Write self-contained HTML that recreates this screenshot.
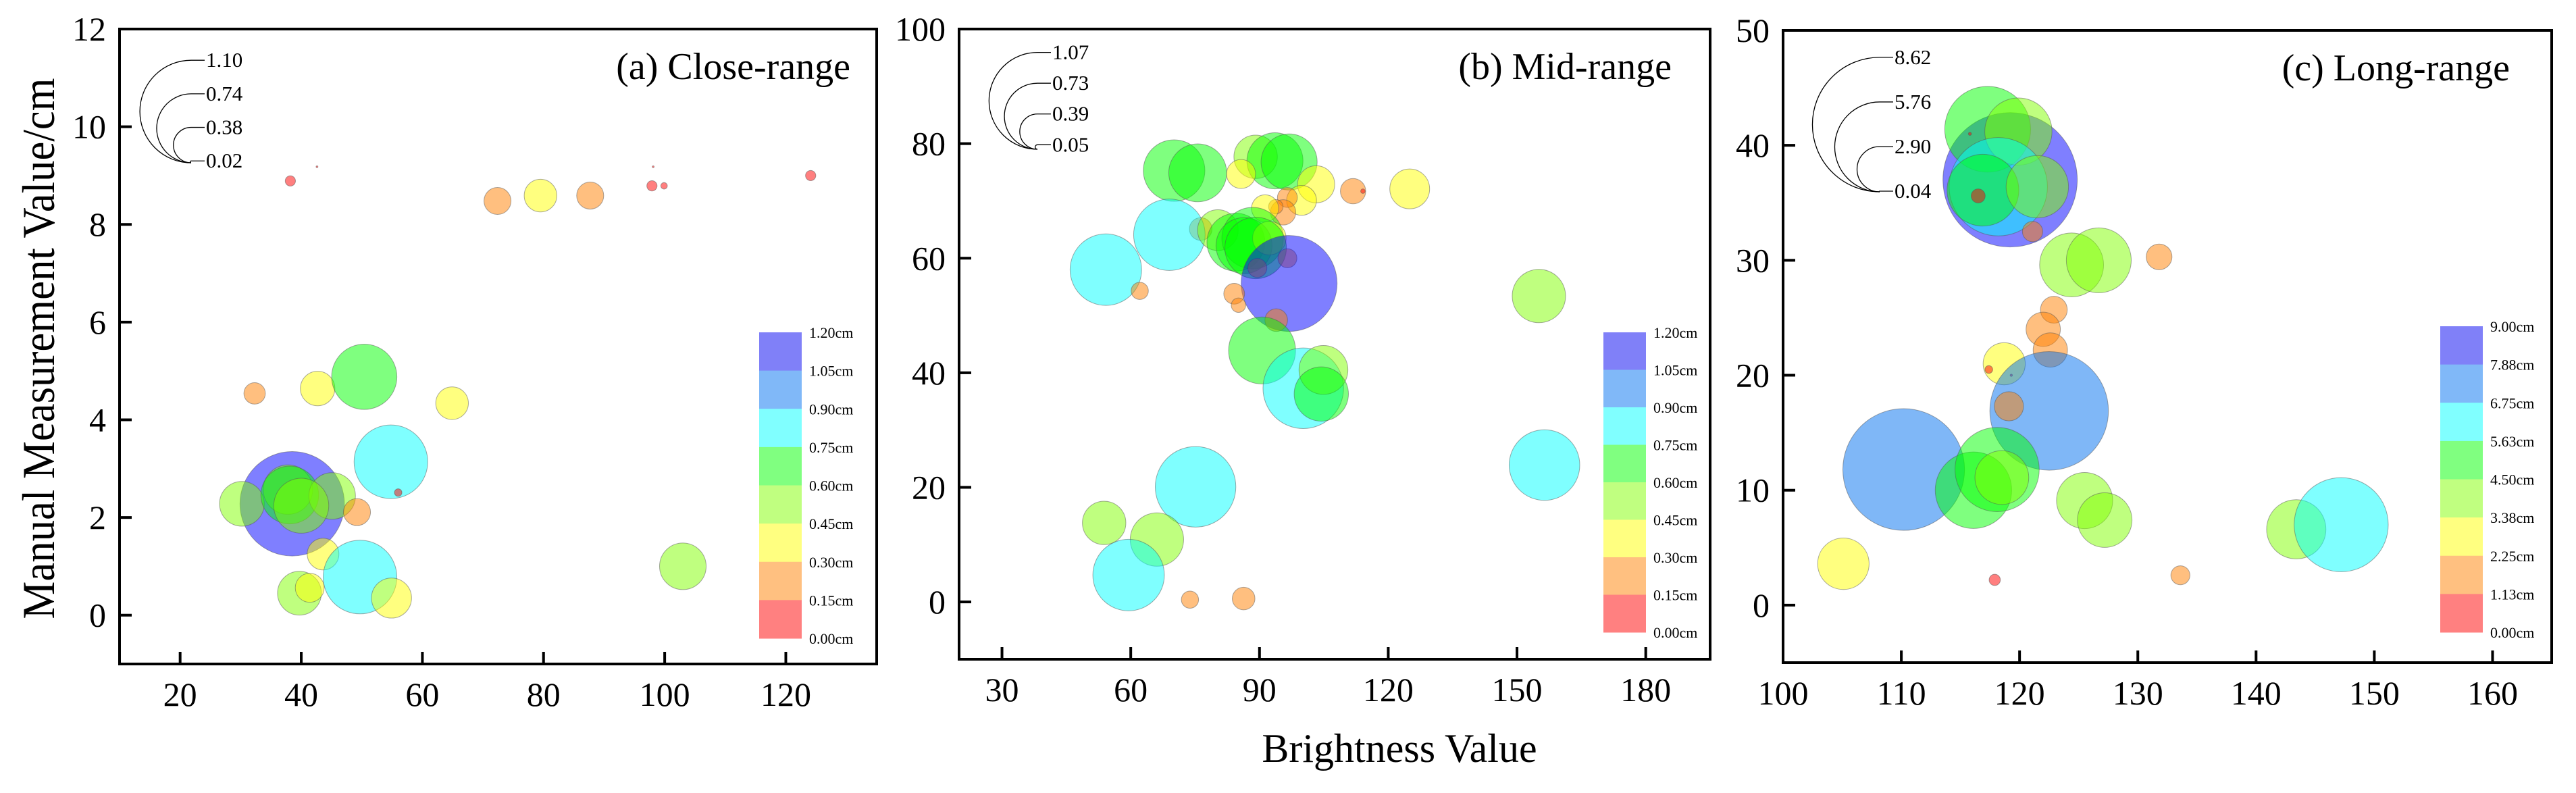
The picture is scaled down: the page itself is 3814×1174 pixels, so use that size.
<!DOCTYPE html>
<html><head><meta charset="utf-8"><style>
html,body{margin:0;padding:0;background:#fff}
svg{display:block}
text{font-family:"Liberation Serif",serif;fill:#000}
</style></head><body>
<svg id="chart" width="3814" height="1174" viewBox="0 0 3814 1174" xmlns="http://www.w3.org/2000/svg">
<text x="0" y="0" transform="translate(80,516) rotate(-90)" text-anchor="middle" font-size="68" textLength="801" lengthAdjust="spacingAndGlyphs">Manual Measurement Value/cm</text>
<text x="2072" y="1128" text-anchor="middle" font-size="60">Brightness Value</text>
</svg>
<script>
// ---- Panel (a) Close-range data ----
const aX=[38.2,42.6,98.1,72.4,79.5,87.7,97.9,99.9,124.1,32.3,42.7,50.4,64.9,54.8,56.0,38.5,30.2,37.8,38.1,45.1,40.0,49.2,43.6,49.7,39.7,41.4,54.9,103.0];
const aY=[8.89,9.18,9.18,8.48,8.59,8.59,8.79,8.79,9.0,4.54,4.64,4.88,4.34,3.14,2.51,2.28,2.28,2.57,2.46,2.44,2.24,2.11,1.25,0.78,0.45,0.56,0.35,1.0];
const aS=[0.11,0.02,0.02,0.29,0.35,0.29,0.11,0.07,0.11,0.23,0.37,0.70,0.35,0.79,0.08,1.12,0.48,0.53,0.62,0.50,0.59,0.29,0.34,0.79,0.47,0.31,0.43,0.50];
const aXTicks=[20,40,60,80,100,120];
const aYTicks=[0,2,4,6,8,10,12];
const aSizeLegend=[1.10,0.74,0.38,0.02];
const aBreaks=["1.20cm","1.05cm","0.90cm","0.75cm","0.60cm","0.45cm","0.30cm","0.15cm","0.00cm"];
const aBreakVals=[0,0.15,0.30,0.45,0.60,0.75,0.90,1.05,1.20];
// ---- Panel (b) Mid-range data ----
const bX=[70.1,75.6,89.1,93.6,96.9,85.7,103.2,111.8,114.1,125.0,99.8,96.5,95.5,93.8,91.3,76.3,69.0,54.2,62.1,80.3,84.5,88.4,86.4,92.3,89.1,89.5,96.5,96.9,84.1,85.1,93.9,90.6,100.2,104.9,104.4,155.1,156.4,75.1,53.8,66.1,59.5,73.8,86.3];
const bY=[75.3,74.9,77.7,77.0,76.8,74.7,72.9,71.7,71.7,72.1,70.1,70.6,68.0,69.0,68.7,65.1,64.1,58.0,54.3,64.9,62.8,63.5,62.2,63.5,61.8,58.3,60.0,55.6,53.8,51.8,49.2,43.9,37.3,40.5,36.3,53.4,23.9,20.1,13.8,10.9,4.7,0.4,0.6];
const bS=[0.68,0.64,0.48,0.62,0.62,0.32,0.41,0.28,0.05,0.44,0.33,0.22,0.28,0.16,0.30,0.25,0.79,0.79,0.19,0.45,0.64,0.68,0.62,0.37,0.68,0.21,0.21,1.06,0.23,0.16,0.25,0.74,0.89,0.54,0.60,0.59,0.78,0.89,0.48,0.59,0.79,0.19,0.25];
const bXTicks=[30,60,90,120,150,180];
const bYTicks=[0,20,40,60,80,100];
const bSizeLegend=[1.07,0.73,0.39,0.05];
const bBreaks=["1.20cm","1.05cm","0.90cm","0.75cm","0.60cm","0.45cm","0.30cm","0.15cm","0.00cm"];
const bBreakVals=[0,0.15,0.30,0.45,0.60,0.75,0.90,1.05,1.20];
// ---- Panel (c) Long-range data ----
const cX=[119.2,117.3,119.9,118.2,116.9,121.5,116.5,115.8,121.1,124.4,126.7,131.8,122.9,122.0,122.6,118.7,117.4,119.3,122.5,119.1,110.2,116.1,118.1,118.5,125.5,127.2,143.4,147.2,105.1,117.9,133.6];
const cY=[37.0,41.4,41.2,36.4,36.1,36.4,35.6,41.0,32.5,29.6,30.0,30.3,25.7,24.0,22.2,21.0,20.5,20.0,16.9,17.3,11.8,10.0,11.8,11.1,9.1,7.4,6.6,7.0,3.6,2.2,2.6];
const cS=[8.61,5.5,4.31,6.3,4.6,4.0,0.9,0.2,1.3,4.1,4.16,1.65,1.72,2.2,2.2,2.7,0.5,0.15,7.6,1.87,7.8,4.9,5.4,3.45,3.6,3.5,3.8,6.03,3.3,0.72,1.22];
const cXTicks=[100,110,120,130,140,150,160];
const cYTicks=[0,10,20,30,40,50];
const cSizeLegend=[8.62,5.76,2.90,0.04];
const cBreaks=["9.00cm","7.88cm","6.75cm","5.63cm","4.50cm","3.38cm","2.25cm","1.13cm","0.00cm"];
const cBreakVals=[0,1.13,2.25,3.38,4.50,5.63,6.75,7.88,9.00];

const bandFill=["#ff0000","#ff8000","#ffff00","#80ff00","#00ff00","#00ffff","#0070f0","#0000ff"];
const bandLegend=["#ff8080","#ffc080","#ffff80","#c0ff80","#80ff80","#80ffff","#80b8f8","#8080f8"];

const NS="http://www.w3.org/2000/svg";
const svg=document.getElementById('chart');
function mk(tag,attrs,parent){const e=document.createElementNS(NS,tag);for(const k in attrs)e.setAttribute(k,attrs[k]);(parent||svg).appendChild(e);return e;}

function panel(cfg,X,Y,S,xt,yt,sl,brk,bv){
  const g=mk('g',{});
  
  
  const sx=v=>cfg.L+(v-cfg.x0)/(cfg.x1-cfg.x0)*(cfg.R-cfg.L);
  const sy=v=>cfg.B-(v-cfg.y0)/(cfg.y1-cfg.y0)*(cfg.B-cfg.T);
  const cls=v=>{for(let i=0;i<8;i++){if(v<bv[i+1])return i;}return 7;};
  for(let i=0;i<X.length;i++){
    const c=mk('circle',{cx:sx(X[i]),cy:sy(Y[i]),r:Math.max(1,S[i]*cfg.rs),fill:bandFill[cls(S[i])],'fill-opacity':0.5,stroke:'#555','stroke-opacity':0.5,'stroke-width':1},g);
    
    
  }
  const f=mk('rect',{x:cfg.L,y:cfg.T,width:cfg.R-cfg.L,height:cfg.B-cfg.T,fill:'none',stroke:'#000','stroke-width':4},g);
  
  
  xt.forEach(v=>{
    const x=sx(v);
    const l=mk('line',{x1:x,x2:x,y1:cfg.B,y2:cfg.B-18,stroke:'#000','stroke-width':4},g);
    
    
    const t=mk('text',{x:x,y:cfg.B+62,'text-anchor':'middle','font-size':50},g);
    t.textContent=v;
    
    
  });
  yt.forEach(v=>{
    const y=sy(v);
    const l=mk('line',{x1:cfg.L,x2:cfg.L+18,y1:y,y2:y,stroke:'#000','stroke-width':4},g);
    
    
    const t=mk('text',{x:cfg.L-20,y:y+17,'text-anchor':'end','font-size':50},g);
    t.textContent=v;
    
    
  });
  const tt=mk('text',{x:cfg.tx,y:cfg.T+74,'text-anchor':'end','font-size':56},g);
  tt.textContent=cfg.title;
  
  
  sl.forEach(v=>{
    const r=Math.max(0.5,v*cfg.rs);const top=cfg.slB-2*r;
    const p=mk('path',{d:`M${cfg.slX+20},${top} L${cfg.slX},${top} A${r},${r} 0 0 0 ${cfg.slX},${cfg.slB}`,fill:'none',stroke:'#000','stroke-width':1.3},g);
    
    
    const t=mk('text',{x:cfg.slX+22,y:top+10,'font-size':31},g);
    t.textContent=v.toFixed(2);
    
    
  });
  const h=(cfg.cB-cfg.cT)/8;
  for(let i=0;i<8;i++){
    const r=mk('rect',{x:cfg.cL,y:cfg.cT+i*h,width:63,height:h+0.5,fill:bandLegend[7-i]},g);
    
    
  }
  brk.forEach((s,i)=>{
    const t=mk('text',{x:cfg.cL+74,y:cfg.cT+i*h+8,'font-size':22},g);
    t.textContent=s;
    
    
  });
}
panel({name:'panel-a-close-range',L:177,T:43,R:1298,B:983,x0:10,x1:135,y0:-1,y1:12,rs:69,title:'(a) Close-range',tx:1259,slX:283,slB:241,cL:1124,cT:492,cB:945},aX,aY,aS,aXTicks,aYTicks,aSizeLegend,aBreaks,aBreakVals);
panel({name:'panel-b-mid-range',L:1420,T:43,R:2532,B:976,x0:20,x1:195,y0:-10,y1:100,rs:67,title:'(b) Mid-range',tx:2475,slX:1536,slB:221,cL:2374,cT:492,cB:936},bX,bY,bS,bXTicks,bYTicks,bSizeLegend,bBreaks,bBreakVals);
panel({name:'panel-c-long-range',L:2640,T:45,R:3778,B:981,x0:100,x1:165,y0:-5,y1:50,rs:11.55,title:'(c) Long-range',tx:3716,slX:2783,slB:284,cL:3613,cT:483,cB:936},cX,cY,cS,cXTicks,cYTicks,cSizeLegend,cBreaks,cBreakVals);
</script>
</body></html>
